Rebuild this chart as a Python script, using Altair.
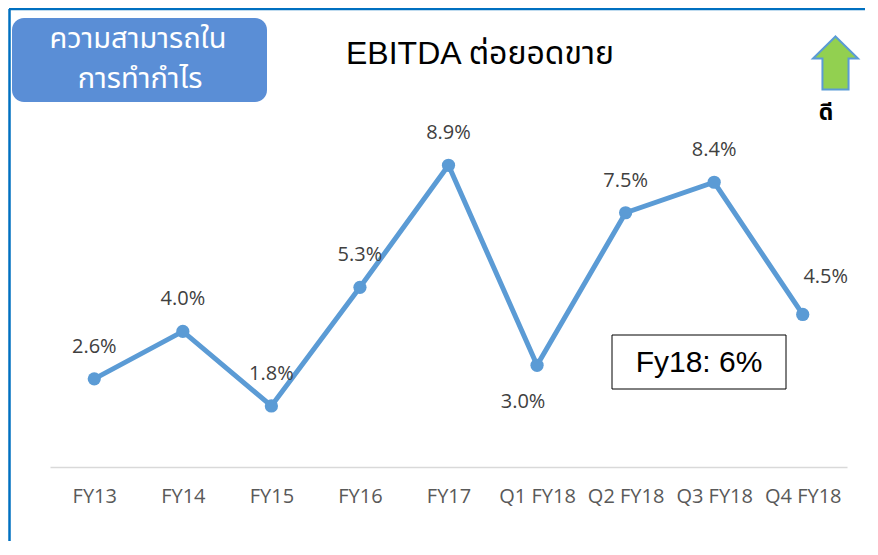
import altair as alt
import pandas as pd

periods = ["FY13", "FY14", "FY15", "FY16", "FY17", "Q1 FY18", "Q2 FY18", "Q3 FY18", "Q4 FY18"]
margins = [2.6, 4.0, 1.8, 5.3, 8.9, 3.0, 7.5, 8.4, 4.5]
labels = ["2.6%", "4.0%", "1.8%", "5.3%", "8.9%", "3.0%", "7.5%", "8.4%", "4.5%"]

title_text = "EBITDA ต่อยอดขาย"
badge_lines = ["ความสามารถใน", "การทำกำไร"]
good_text = "ดี"
summary_text = "Fy18: 6%"

df = pd.DataFrame({"period": periods, "margin": margins, "label": labels})

LINE = "#5B9BD5"
THAI = "Leelawadee UI, Tahoma, Noto Sans Thai, Noto Sans, DejaVu Sans, sans-serif"
LAB = "Open Sans"

x_enc = alt.X("period:N", sort=periods, scale=alt.Scale(paddingOuter=0.5),
              axis=alt.Axis(title=None, labelAngle=0, ticks=False, domainColor="#D9D9D9",
                            domainWidth=1.5, labelFont=LAB, labelFontSize=20,
                            labelColor="#595959", labelPadding=19, grid=False))
y_enc = alt.Y("margin:Q", scale=alt.Scale(domain=[0, 10]), axis=None)

base = alt.Chart(df)

line = base.mark_line(color=LINE, strokeWidth=5).encode(x=x_enc, y=y_enc)
pts = base.mark_point(filled=True, color=LINE, size=175, opacity=1).encode(x=x_enc, y=y_enc)

txt_above = base.mark_text(font=LAB, fontSize=20, color="#404040", dy=-32).encode(
    x=x_enc, y=y_enc, text="label:N").transform_filter(
    "datum.period != 'Q1 FY18' && datum.period != 'Q4 FY18'")
txt_q1 = base.mark_text(font=LAB, fontSize=20, color="#404040", dy=37, dx=-14).encode(
    x=x_enc, y=y_enc, text="label:N").transform_filter("datum.period == 'Q1 FY18'")
txt_q4 = base.mark_text(font=LAB, fontSize=20, color="#404040", dy=-37, dx=23).encode(
    x=x_enc, y=y_enc, text="label:N").transform_filter("datum.period == 'Q4 FY18'")

one = pd.DataFrame({"k": [0]})

border_top = alt.Chart(one).mark_rule(color="#0070C0", strokeWidth=2.5).encode(
    x=alt.value(-41), x2=alt.value(815), y=alt.value(-119))
border_left = alt.Chart(one).mark_rule(color="#0070C0", strokeWidth=2.5).encode(
    x=alt.value(-40.5), y=alt.value(-119), y2=alt.value(420))

badge = alt.Chart(one).mark_rect(color="#5A8ED6", cornerRadius=12).encode(
    x=alt.value(-38), x2=alt.value(217), y=alt.value(-110), y2=alt.value(-26))
badge_t1 = alt.Chart(one).mark_text(font=THAI, fontSize=29, color="white").encode(
    x=alt.value(88), y=alt.value(-89), text=alt.value(badge_lines[0]))
badge_t2 = alt.Chart(one).mark_text(font=THAI, fontSize=29, color="white").encode(
    x=alt.value(90), y=alt.value(-49), text=alt.value(badge_lines[1]))

title = alt.Chart(one).mark_text(font="Liberation Sans, " + THAI, fontSize=32, color="black").encode(
    x=alt.value(430), y=alt.value(-74), text=alt.value(title_text))

arrow_path = "M0,-1.18 L1,-0.2 L0.58,-0.2 L0.58,1.18 L-0.58,1.18 L-0.58,-0.2 L-1,-0.2 Z"
arrow = alt.Chart(one).mark_point(shape=arrow_path, size=2025, filled=True, fill="#92D050",
                                  stroke="#5B9BD5", strokeWidth=2, opacity=1).encode(
    x=alt.value(785.5), y=alt.value(-65))
good = alt.Chart(one).mark_text(font=THAI, fontSize=23, fontWeight="bold", color="black").encode(
    x=alt.value(776), y=alt.value(-15), text=alt.value(good_text))

sbox = alt.Chart(one).mark_rect(fill="white", stroke="black", strokeWidth=1).encode(
    x=alt.value(562), x2=alt.value(736), y=alt.value(207), y2=alt.value(261))
stext = alt.Chart(one).mark_text(font="Liberation Sans", fontSize=30, color="black").encode(
    x=alt.value(649), y=alt.value(235), text=alt.value(summary_text))

chart = alt.layer(border_top, border_left, badge, badge_t1, badge_t2, title, arrow, good,
                  line, pts, txt_above, txt_q1, txt_q4, sbox, stext).properties(
    width=797, height=339,
    autosize=alt.AutoSizeParams(type="none"),
    padding={"left": 42, "top": 120, "right": 20, "bottom": 74},
    background="white",
).configure_view(stroke=None)

chart.save("out.html", embed_options={"renderer": "svg", "actions": False})
